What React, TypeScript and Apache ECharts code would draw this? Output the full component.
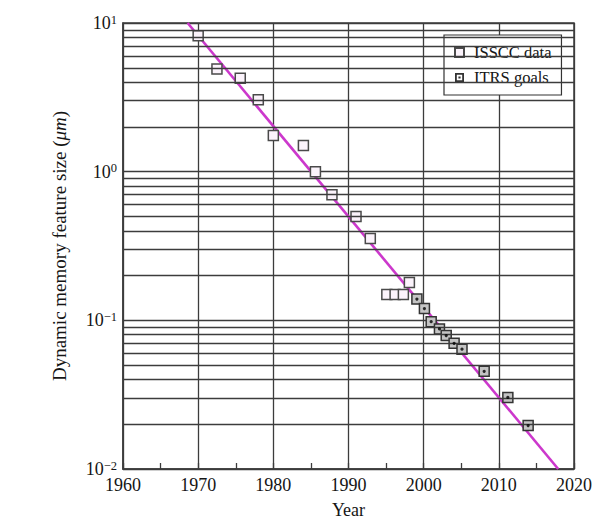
import React, { useEffect, useRef } from "react";
import * as echarts from "echarts";

// ISSCC data (open squares)
const isscYears = [1970, 1972.5, 1975.6, 1978, 1980, 1984, 1985.6, 1987.8, 1991, 1992.9, 1995.1, 1996.2, 1997.3, 1998.1];
const isscValues = [8.2, 4.9, 4.25, 3.05, 1.75, 1.5, 1.0, 0.7, 0.5, 0.355, 0.149, 0.149, 0.149, 0.18];

// ITRS goals (squares with dot)
const itrsYears = [1999.1, 2000.1, 2001, 2002.1, 2003, 2004.05, 2005.1, 2008.05, 2011.2, 2013.9];
const itrsValues = [0.139, 0.12, 0.098, 0.0875, 0.079, 0.07, 0.064, 0.0454, 0.0303, 0.0196];

// Trend line
const trendYears = [1968.6, 2017.9];
const trendValues = [10, 0.01];

// Minor horizontal grid lines
const minorGridValues = [
  0.02, 0.03, 0.04, 0.05, 0.06, 0.07, 0.08, 0.09,
  0.2, 0.3, 0.4, 0.5, 0.6, 0.7, 0.8, 0.9,
  2, 3, 4, 5, 6, 7, 8, 9,
];

const xMin = 1960;
const xMax = 2020;
const xInterval = 10;
const yMin = 0.01;
const yMax = 10;

const SERIF = "'Liberation Serif', 'DejaVu Serif', serif";
const GRID = "#3c3c3c";
const TEXT = "#151515";

export default function App() {
  const ref = useRef<HTMLDivElement>(null);

  useEffect(() => {
    if (!ref.current) return;
    const chart = echarts.init(ref.current, null, { renderer: "svg" });

    const zip = (xs: number[], ys: number[]) => xs.map((x, i) => [x, ys[i]]);

    const option: any = {
      animation: false,
      backgroundColor: "#fff",
      grid: {
        left: 123,
        right: 33,
        top: 23,
        bottom: 58,
        show: true,
        borderColor: GRID,
        borderWidth: 1.5,
        backgroundColor: "transparent",
        containLabel: false,
      },
      legend: {
        orient: "vertical",
        left: 444,
        top: 35,
        padding: [9, 10, 9, 10],
        itemGap: 8,
        itemWidth: 9,
        itemHeight: 9,
        backgroundColor: "#fff",
        borderColor: "#333",
        borderWidth: 1.2,
        borderRadius: 0,
        formatter: (name: string) => "{t|" + name + "}",
        textStyle: {
          fontFamily: SERIF,
          fontSize: 16.5,
          color: TEXT,
          rich: { t: { fontFamily: SERIF, fontSize: 16.5, color: TEXT, padding: [0, 0, 0, 5] } },
        },
        data: [
          { name: "ISSCC data", icon: "rect" },
          {
            name: "ITRS goals",
            icon: "path://M0,0H10V10H0Z M2,2V8H8V2Z M3.8,3.8H6.2V6.2H3.8Z",
            itemStyle: { color: "#333", borderWidth: 0 },
          },
        ],
      },
      xAxis: {
        type: "value",
        min: xMin,
        max: xMax,
        interval: xInterval,
        name: "Year",
        nameLocation: "middle",
        nameGap: 32,
        nameTextStyle: { fontFamily: SERIF, fontSize: 18, color: TEXT },
        axisLine: { show: true, lineStyle: { color: GRID, width: 1.5 } },
        axisTick: { show: true, inside: true, length: 6, lineStyle: { color: GRID, width: 1.3 } },
        minorTick: { show: true, splitNumber: 2, length: 6, lineStyle: { color: GRID, width: 1.3 } },
        axisLabel: {
          fontFamily: SERIF,
          fontSize: 18,
          color: TEXT,
          margin: 7,
          formatter: (v: number) => String(v),
        },
        splitLine: { show: true, lineStyle: { color: GRID, width: 1.3 } },
      },
      yAxis: {
        type: "log",
        logBase: 10,
        min: yMin,
        max: yMax,
        name: "Dynamic memory feature size ({i|μm})",
        nameLocation: "middle",
        nameGap: 54,
        nameRotate: 90,
        nameTextStyle: {
          fontFamily: SERIF,
          fontSize: 19,
          color: TEXT,
          rich: { i: { fontFamily: SERIF, fontSize: 19, fontStyle: "italic", color: TEXT } },
        },
        axisLine: { show: true, lineStyle: { color: GRID, width: 1.5 } },
        axisTick: { show: false },
        axisLabel: {
          margin: 6,
          formatter: (v: number) => {
            const e = Math.round(Math.log10(v));
            const s = e < 0 ? "\u2212" + -e : String(e);
            return "{b|10}{s|" + s + "}";
          },
          rich: {
            b: { fontFamily: SERIF, fontSize: 18, color: TEXT, lineHeight: 20 },
            s: { fontFamily: SERIF, fontSize: 12.5, color: TEXT, lineHeight: 12, verticalAlign: "top" },
          },
        },
        splitLine: { show: true, lineStyle: { color: GRID, width: 1.3 } },
      },
      series: [
        {
          name: "minor-grid",
          type: "line",
          data: [],
          silent: true,
          markLine: {
            silent: true,
            symbol: "none",
            label: { show: false },
            lineStyle: { color: GRID, width: 1.3, type: "solid" },
            emphasis: { disabled: true },
            data: minorGridValues.map((v) => ({ yAxis: v })),
          },
          z: 1,
        },
        {
          name: "trend",
          type: "line",
          data: zip(trendYears, trendValues),
          showSymbol: false,
          symbol: "none",
          silent: true,
          lineStyle: { color: "#cc38cc", width: 2.6 },
          clip: true,
          z: 3,
        },
        {
          name: "ISSCC data",
          type: "scatter",
          data: zip(isscYears, isscValues),
          symbol: "rect",
          symbolSize: 10,
          itemStyle: { color: "#fbf3fb", borderColor: "#4a4a4a", borderWidth: 1.5, opacity: 1 },
          z: 4,
        },
        {
          name: "ITRS goals",
          type: "scatter",
          data: zip(itrsYears, itrsValues),
          symbol: "rect",
          symbolSize: 10,
          itemStyle: { color: "#c4c4c4", borderColor: "#333", borderWidth: 1.5, opacity: 1 },
          z: 4,
        },
        {
          name: "ITRS dots",
          type: "scatter",
          data: zip(itrsYears, itrsValues),
          symbol: "circle",
          symbolSize: 3.2,
          itemStyle: { color: "#000" },
          silent: true,
          z: 5,
        },
      ],
    };

    chart.setOption(option);
    return () => chart.dispose();
  }, []);

  return (
    <div
      ref={ref}
      style={{ position: "fixed", left: 0, top: 0, width: 607, height: 527, background: "#fff" }}
    />
  );
}
